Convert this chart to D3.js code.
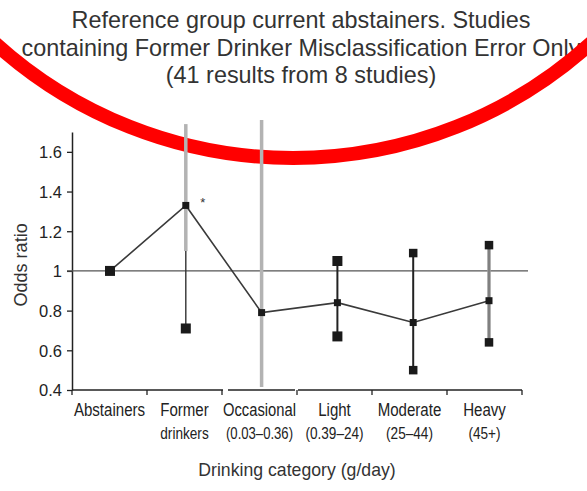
<!DOCTYPE html>
<html>
<head>
<meta charset="utf-8">
<script src="https://cdn.jsdelivr.net/npm/d3@7"></script>
<style>
  body { margin: 0; background: #fff; }
  svg { display: block; }
  text { font-family: "Liberation Sans", Arial, Helvetica, sans-serif; }
</style>
</head>
<body>
<svg id="chart" width="587" height="491"></svg>
<script>
// ---- data ----
const titleLines = [
  "Reference group current abstainers. Studies",
  "containing Former Drinker Misclassification Error Only",
  "(41 results from 8 studies)"
];
const categories = ["Abstainers", "Former drinkers", "Occasional", "Light", "Moderate", "Heavy"];
const categoryLine1 = ["Abstainers", "Former", "Occasional", "Light", "Moderate", "Heavy"];
const categoryLine2 = ["", "drinkers", "(0.03\u20130.36)", "(0.39\u201324)", "(25\u201344)", "(45+)"];
// pooled odds ratio per category (abstainers = reference)
const oddsRatio = [1.00, 1.33, 0.79, 0.84, 0.74, 0.85];
// 95% CI bounds; null = bound lies outside the plotted range
const ciLower = [null, 0.71, null, 0.67, 0.50, 0.64];
const ciUpper = [null, null, null, 1.05, 1.09, 1.13];
const significant = [false, true, false, false, false, false];
const yTicks = [0.4, 0.6, 0.8, 1, 1.2, 1.4, 1.6];
const yTickLabels = ["0.4", "0.6", "0.8", "1", "1.2", "1.4", "1.6"];
const yDomain = [0.4, 1.7];
const referenceValue = 1;
const xTitle = "Drinking category (g/day)";
const yTitle = "Odds ratio";

// ---- layout ----
const svg = d3.select("#chart");
const plot = { left: 72, right: 522, top: 132, bottom: 390 };

const y = d3.scaleLinear().domain(yDomain).range([plot.bottom, plot.top]);
const xBand = d3.scaleBand().domain(categories).range([plot.left, plot.right]).padding(0);
const xMark = d3.scalePoint().domain(categories).range([110, 489]).padding(0);

// squeeze a text element horizontally to a fraction of its natural width,
// never letting it grow wider than maxW
function condense(sel, k, maxW = Infinity) {
  sel.each(function () {
    const w = this.getComputedTextLength();
    if (w > 0) {
      this.setAttribute("textLength", Math.min(w * k, maxW).toFixed(1));
      this.setAttribute("lengthAdjust", "spacingAndGlyphs");
    }
  });
}

// ---- title ----
svg.append("g")
  .selectAll("text")
  .data(titleLines)
  .join("text")
  .attr("x", 301)
  .attr("y", (d, i) => 28 + i * 27.5)
  .attr("text-anchor", "middle")
  .attr("font-size", 23.4)
  .attr("fill", "#333")
  .text(d => d);

// ---- highlight arc ----
svg.append("circle")
  .attr("cx", 293)
  .attr("cy", -286)
  .attr("r", 444)
  .attr("fill", "none")
  .attr("stroke", "#ff0000")
  .attr("stroke-width", 14);

// ---- y axis ----
const yAxis = d3.axisLeft(y)
  .tickValues(yTicks)
  .tickFormat((d, i) => yTickLabels[i])
  .tickSize(5)
  .tickSizeOuter(0)
  .tickPadding(5);

const gy = svg.append("g")
  .attr("transform", `translate(${plot.left},0)`)
  .call(yAxis);
gy.select(".domain").attr("stroke", "#222").attr("stroke-width", 1.5);
gy.selectAll(".tick line").attr("stroke", "#222").attr("stroke-width", 1.3);
gy.selectAll(".tick text")
  .attr("font-size", 16.5)
  .attr("fill", "#222")
  .attr("font-family", "'Liberation Sans', Arial, sans-serif")
  .attr("dy", "0.36em");

svg.append("text")
  .attr("transform", `translate(27,${y(referenceValue) - 6}) rotate(-90)`)
  .attr("text-anchor", "middle")
  .attr("font-size", 19)
  .attr("fill", "#333")
  .text(yTitle)
  .call(condense, 0.95);

// ---- x axis (line is interrupted around the occasional band) ----
const xr = xBand.range();
const bounds = categories.map(c => xBand(c)).concat([xr[1]]);
const axisSegments = [
  [bounds[0], bounds[2] + 1],
  [bounds[2] + 6, bounds[3] - 2],
  [bounds[3] + 1, bounds[6]]
];
const gx = svg.append("g");
gx.selectAll("line.seg")
  .data(axisSegments)
  .join("line")
  .attr("class", "seg")
  .attr("x1", d => d[0]).attr("x2", d => d[1])
  .attr("y1", plot.bottom).attr("y2", plot.bottom)
  .attr("stroke", "#222").attr("stroke-width", 1.5);
gx.selectAll("line.tick")
  .data(bounds)
  .join("line")
  .attr("class", "tick")
  .attr("x1", d => d).attr("x2", d => d)
  .attr("y1", plot.bottom).attr("y2", plot.bottom + 5)
  .attr("stroke", "#222").attr("stroke-width", 1.3);

const bw = xBand.bandwidth();
gx.selectAll("text.l1")
  .data(categories)
  .join("text")
  .attr("class", "l1")
  .attr("x", d => xBand(d) + bw / 2)
  .attr("y", 416)
  .attr("text-anchor", "middle")
  .attr("font-size", 17.5)
  .attr("fill", "#222")
  .text((d, i) => categoryLine1[i])
  .call(condense, 0.86, bw - 2);
gx.selectAll("text.l2")
  .data(categories)
  .join("text")
  .attr("class", "l2")
  .attr("x", d => xBand(d) + bw / 2)
  .attr("y", 439)
  .attr("text-anchor", "middle")
  .attr("font-size", 17)
  .attr("fill", "#222")
  .text((d, i) => categoryLine2[i])
  .call(condense, 0.8, bw - 8);

svg.append("text")
  .attr("x", (xr[0] + xr[1]) / 2)
  .attr("y", 476)
  .attr("text-anchor", "middle")
  .attr("font-size", 19)
  .attr("fill", "#333")
  .text(xTitle)
  .call(condense, 0.93);

// ---- reference line at OR = 1 ----
svg.append("line")
  .attr("x1", plot.left - 5).attr("x2", plot.right + 6)
  .attr("y1", y(referenceValue)).attr("y2", y(referenceValue))
  .attr("stroke", "#555").attr("stroke-width", 1.4);

// ---- confidence intervals ----
const grey = "#b3b3b3";
const dark = "#222";
const topOut = y(1.76), bottomOut = y(0.415);
const ciG = svg.append("g");
categories.forEach((c, i) => {
  if (i === 0) return; // reference category has no interval
  const cx = xMark(c);
  const lo = ciLower[i], hi = ciUpper[i];
  if (lo == null && hi == null) {
    // interval spans the whole plotted range
    ciG.append("line").attr("x1", cx).attr("x2", cx)
      .attr("y1", topOut).attr("y2", bottomOut)
      .attr("stroke", grey).attr("stroke-width", 3.5);
  } else if (hi == null) {
    // upper bound beyond the top of the frame
    const joinAt = y(referenceValue + 0.1);
    ciG.append("line").attr("x1", cx).attr("x2", cx)
      .attr("y1", topOut + 4).attr("y2", joinAt)
      .attr("stroke", grey).attr("stroke-width", 3.5);
    ciG.append("line").attr("x1", cx).attr("x2", cx)
      .attr("y1", joinAt).attr("y2", y(lo))
      .attr("stroke", "#333").attr("stroke-width", 1.4);
  } else if (c === "Heavy") {
    ciG.append("line").attr("x1", cx).attr("x2", cx)
      .attr("y1", y(hi)).attr("y2", y(lo))
      .attr("stroke", "#9a9a9a").attr("stroke-width", 3.5);
    ciG.append("line").attr("x1", cx).attr("x2", cx)
      .attr("y1", y(hi)).attr("y2", y(lo))
      .attr("stroke", "#666").attr("stroke-width", 1);
  } else {
    ciG.append("line").attr("x1", cx).attr("x2", cx)
      .attr("y1", y(hi)).attr("y2", y(lo))
      .attr("stroke", dark).attr("stroke-width", 2);
  }
});

// ---- connecting line through the estimates ----
const line = d3.line()
  .x((d, i) => xMark(categories[i]))
  .y(d => y(d));
svg.append("path")
  .datum(oddsRatio)
  .attr("d", line)
  .attr("fill", "none")
  .attr("stroke", "#3a3a3a")
  .attr("stroke-width", 1.6);

// ---- markers ----
const markG = svg.append("g").attr("fill", "#1a1a1a");
function square(cx, cy, s) {
  markG.append("rect")
    .attr("x", cx - s / 2).attr("y", cy - s / 2)
    .attr("width", s).attr("height", s);
}
categories.forEach((c, i) => {
  const cx = xMark(c);
  square(cx, y(oddsRatio[i]), i === 0 ? 10 : 7);
  if (ciLower[i] != null) square(cx, y(ciLower[i]), i >= 4 ? 8.5 : 10);
  if (ciUpper[i] != null) square(cx, y(ciUpper[i]), i >= 4 ? 8.5 : 10);
});

// significance marker
svg.append("g")
  .selectAll("text")
  .data(categories.filter((c, i) => significant[i]))
  .join("text")
  .attr("x", c => xMark(c) + 17)
  .attr("y", c => y(oddsRatio[categories.indexOf(c)]) + 2)
  .attr("text-anchor", "middle")
  .attr("font-size", 13)
  .attr("fill", "#333")
  .text("*");
</script>
</body>
</html>
